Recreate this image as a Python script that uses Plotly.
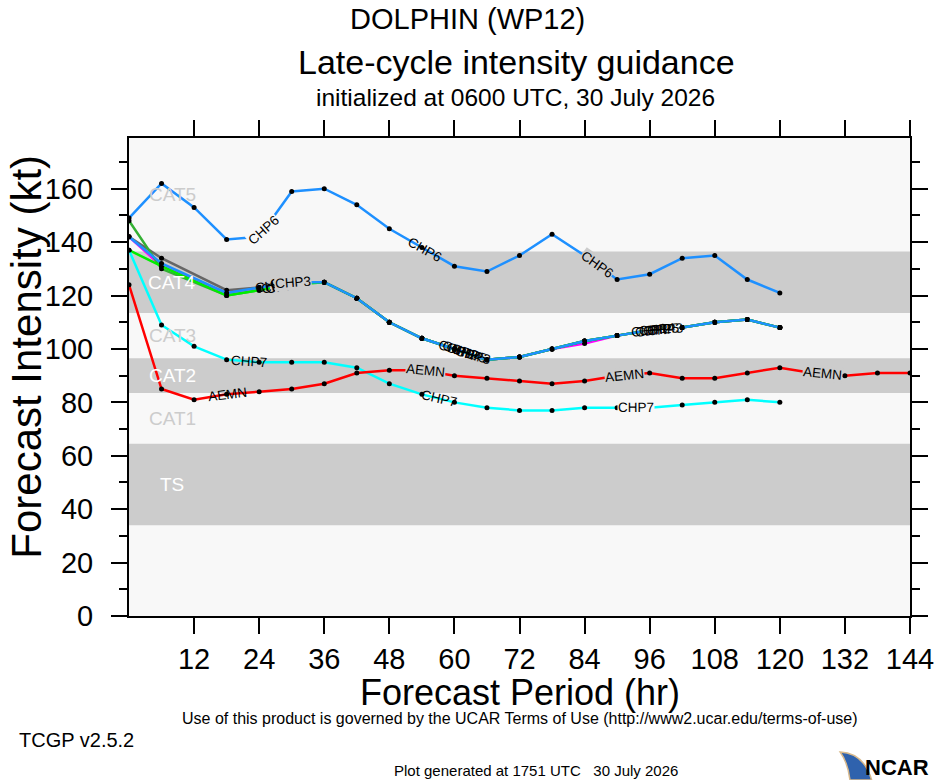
import numpy as np
import plotly.graph_objects as go

# forecast hours
HOURS = [0, 6, 12, 18, 24, 30, 36, 42, 48, 54, 60, 66, 72, 78, 84, 90, 96, 102, 108, 114, 120]
HOURS_CONS = [0, 6, 18, 24, 30, 36, 42, 48, 54, 60, 66, 72, 78, 84, 90, 96, 102, 108, 114, 120]
HOURS_AEMN = [0, 6, 12, 18, 24, 30, 36, 42, 48, 54, 60, 66, 72, 78, 84, 90, 96, 102, 108, 114,
              120, 126, 132, 138, 144]

# intensities (kt)
CHP6 = [149, 162, 153, 141, 142, 159, 160, 154, 145, 138, 131, 129, 135, 143, 135, 126, 128, 134, 135, 126, 121]
CHP7 = [137, 109, 101, 96, 95, 95, 95, 93, 87, 83, 80, 78, 77, 77, 78, 78, 78, 79, 80, 81, 80]
AEMN = [124, 85, 81, 83, 84, 85, 87, 91, 92, 92, 90, 89, 88, 87, 88, 90, 91, 89, 89, 91,
        93, 91, 90, 91, 91]
CHP1 = [142, 134, 122, 123, 125, 125, 119, 110, 104, 100, 96, 97, 100, 103, 105, 107, 108, 110, 111, 108]
CHP2 = [148, 130, 120, 122, 125, 125, 119, 110, 104, 100, 96, 97, 100, 103, 105, 107, 108, 110, 111, 108]
CHP3 = [142, 131, 121, 123, 125, 125, 119, 110, 104, 100, 96, 97, 100, 102, 105, 107, 108, 110, 111, 108]
CHP4 = [137, 131, 120, 122, 124, 125, 119, 110, 104, 100, 96, 97, 100, 103, 105, 107, 108, 110, 111, 108]
CHP5 = [142, 132, 121, 123, 125, 125, 119, 110, 104, 100, 96, 97, 100, 103, 105, 107, 108, 110, 111, 108]

# where the in-line model labels sit (hr)
LABELS_CHP6 = [24.8, 54.5, 86.3]
LABELS_CHP7 = [22.2, 57.2, 93.5]
LABELS_AEMN = [18.2, 54.7, 91.4, 127.9]
LABELS_CHP1 = [26.6, 60.2, 95.8]
LABELS_CHP2 = [27.6, 61.0, 96.6]
LABELS_CHP4 = [28.6, 61.9, 97.4]
LABELS_CHP5 = [29.4, 62.7, 98.1]
LABELS_CHP3 = [30.2, 63.5, 98.8]

# Saffir-Simpson shading
BAND_LO = [34, 83.5, 113.5]
BAND_HI = [64.5, 96.5, 136.5]
CAT_NAMES = ["TS", "CAT1", "CAT2", "CAT3", "CAT4", "CAT5"]
CAT_EDGES = [34, 64.5, 83.5, 96.5, 113.5, 136.5, 179]

X_TICKS = [12, 24, 36, 48, 60, 72, 84, 96, 108, 120, 132, 144]
Y_TICKS = [0, 20, 40, 60, 80, 100, 120, 140, 160]
Y_MINOR = [10, 30, 50, 70, 90, 110, 130, 150, 170]
X_MAX = 144
Y_MAX = 179

FONT = "Liberation Sans"
PLOT_BG = "#f8f8f8"
BAND_COLOR = "#cccccc"

# plot box in page pixels
L, R, T, B = 129, 923, 138, 616
W, H = R - L, B - T
PX_PER_HR = W / X_MAX
PX_PER_KT = H / Y_MAX


def px(x):
    return (x - L) / W


def py(y):
    return (B - y) / H


def in_band(v):
    return any(lo <= v <= hi for lo, hi in zip(BAND_LO, BAND_HI))


def near_edge(v, gap=2.5):
    return any(abs(v - e) < gap for e in BAND_LO + BAND_HI)


def label_angle(h, hrs, vals):
    v0 = np.interp(h - 3, hrs, vals)
    v1 = np.interp(h + 3, hrs, vals)
    return -np.degrees(np.arctan2((v1 - v0) * PX_PER_KT, 6 * PX_PER_HR))


MODELS = [
    ("CHP3", HOURS_CONS, CHP3, "#ff00ff", LABELS_CHP3),
    ("CHP1", HOURS_CONS, CHP1, "#666666", LABELS_CHP1),
    ("CHP2", HOURS_CONS, CHP2, "#33b033", LABELS_CHP2),
    ("CHP4", HOURS_CONS, CHP4, "#00ee00", LABELS_CHP4),
    ("CHP5", HOURS_CONS, CHP5, "#1e90ff", LABELS_CHP5),
    ("CHP6", HOURS, CHP6, "#1e90ff", LABELS_CHP6),
    ("CHP7", HOURS, CHP7, "#00ffff", LABELS_CHP7),
    ("AEMN", HOURS_AEMN, AEMN, "#ff0000", LABELS_AEMN),
]

fig = go.Figure()

for lo, hi in zip(BAND_LO, BAND_HI):
    fig.add_shape(type="rect", xref="x", yref="y", x0=0, x1=X_MAX, y0=lo, y1=hi,
                  fillcolor=BAND_COLOR, line=dict(width=0), layer="below")

for i, name in enumerate(CAT_NAMES):
    mid = (CAT_EDGES[i] + CAT_EDGES[i + 1]) / 2
    fig.add_annotation(x=8, y=mid, text=name, showarrow=False,
                       font=dict(family=FONT, size=19,
                                 color="white" if in_band(mid) else "#cccccc"))

for name, hrs, vals, color, _ in MODELS:
    fig.add_trace(go.Scatter(
        x=hrs, y=vals, mode="lines+markers", name=name,
        line=dict(color=color, width=2.5),
        marker=dict(color="black", size=5),
        hovertemplate=name + " %{x}h: %{y} kt<extra></extra>",
    ))

# in-line labels; clustered ones share the first label's backing (gap in the line)
seen = set()
for name, hrs, vals, color, spots in MODELS[::-1]:
    for h in spots:
        v = float(np.interp(h, hrs, vals))
        key = (round(h / 12), name in ("CHP6", "CHP7", "AEMN") and name)
        backing = None
        if key not in seen:
            seen.add(key)
            if not near_edge(v):
                backing = BAND_COLOR if in_band(v) else PLOT_BG
        fig.add_annotation(x=h, y=v, text=name, showarrow=False,
                           textangle=label_angle(h, hrs, vals),
                           bgcolor=backing, borderpad=0,
                           font=dict(family=FONT, size=13.5, color="black"))

axis_common = dict(
    ticks="outside", ticklen=16, tickwidth=2, tickcolor="black",
    showline=True, linewidth=2, linecolor="black", mirror="ticks",
    showgrid=False, zeroline=False,
    tickfont=dict(family=FONT, size=29, color="black"),
)

fig.update_layout(
    width=946, height=780, autosize=False,
    margin=dict(l=L, r=946 - R, t=T, b=780 - B),
    paper_bgcolor="white", plot_bgcolor=PLOT_BG,
    showlegend=False,
    font=dict(family=FONT, color="black"),
    xaxis=dict(range=[0, X_MAX], tickvals=X_TICKS, ticklabelstandoff=0, **axis_common),
    yaxis=dict(range=[0, Y_MAX], tickvals=Y_TICKS, ticklabelstandoff=12,
               minor=dict(tickvals=Y_MINOR, ticks="outside", ticklen=8,
                          tickwidth=2, tickcolor="black"),
               **axis_common),
)

texts = [
    ("DOLPHIN (WP12)", 473, 19, 29, "center"),
    ("Late-cycle intensity guidance", 523, 62, 34, "center"),
    ("initialized at 0600 UTC, 30 July 2026", 522, 97, 24.5, "center"),
    ("Forecast Period (hr)", 526, 692, 36, "center"),
    ("Use of this product is governed by the UCAR Terms of Use (http://www2.ucar.edu/terms-of-use)",
     526, 718, 16, "center"),
    ("TCGP v2.5.2", 15, 740, 20, "left"),
    ("Plot generated at 1751 UTC   30 July 2026", 543, 770, 15, "center"),
    ("<b>NCAR</b>", 944, 767, 22, "right"),
]
for text, x, y, size, anchor in texts:
    fig.add_annotation(xref="paper", yref="paper", x=px(x), y=py(y), text=text,
                       showarrow=False, xanchor=anchor, yanchor="middle",
                       font=dict(family=FONT, size=size, color="black"))

fig.add_annotation(xref="paper", yref="paper", x=px(24), y=py(357), text="Forecast Intensity (kt)",
                   showarrow=False, textangle=-90, xanchor="center", yanchor="middle",
                   font=dict(family=FONT, size=42, color="black"))

# NCAR swoosh
path = "M {},{} Q {},{} {},{} L {},{} Q {},{} {},{} Z".format(
    px(852), py(752), px(876), py(753), px(884), py(780),
    px(862), py(780), px(860), py(763), px(852), py(752))
fig.add_shape(type="path", xref="paper", yref="paper", path=path,
              fillcolor="#2f62ad", line=dict(color="#d8b98c", width=1.5))

fig.write_html(
    "out.html",
    config={"responsive": False, "displayModeBar": False},
    post_script="document.body.style.margin='0';"
                "document.documentElement.style.overflow='hidden';",
)
